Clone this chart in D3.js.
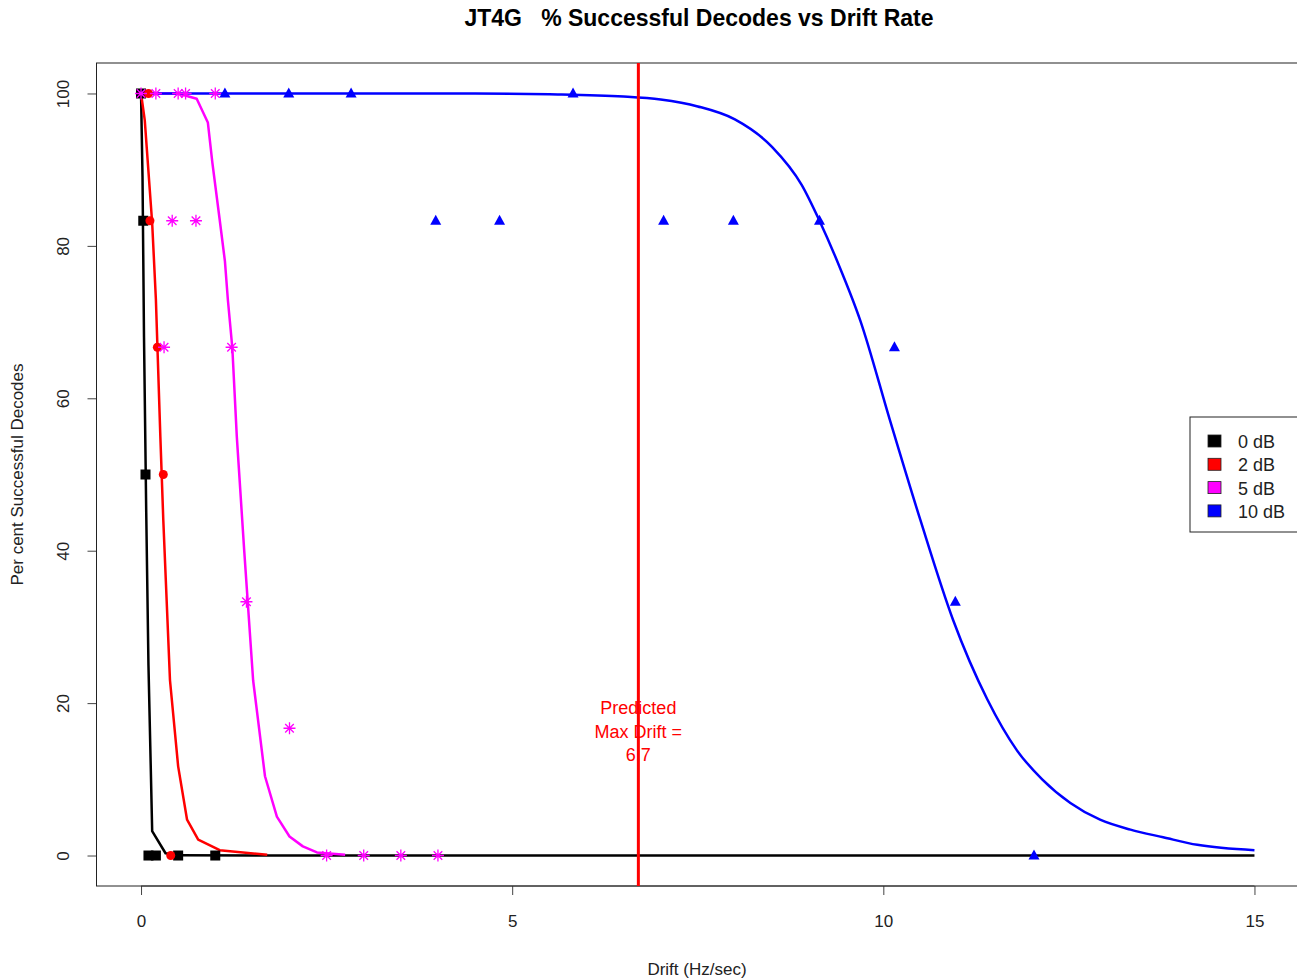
<!DOCTYPE html>
<html>
<head>
<meta charset="utf-8">
<script src="https://cdn.jsdelivr.net/npm/d3@7"></script>
<style>
  body { margin: 0; background: #fff; }
  svg { display: block; font-family: "Liberation Sans", Arial, sans-serif; }
</style>
</head>
<body>
<svg id="chart" width="1297" height="980"></svg>
<script>
// observed points (drift Hz/sec, % decodes)
const pts0 = [[0, 100], [0.03, 83.3], [0.06, 50], [0.1, 0], [0.2, 0], [0.5, 0], [1.0, 0]];
const pts2 = [[0.1, 100], [0.12, 83.3], [0.22, 66.7], [0.3, 50], [0.4, 0]];
const pts5 = [[0, 100], [0.2, 100], [0.5, 100], [0.6, 100], [1.0, 100], [0.42, 83.3], [0.74, 83.3],
  [0.31, 66.7], [1.22, 66.7], [1.42, 33.3], [2.0, 16.7], [2.5, 0], [3.0, 0], [3.5, 0], [4.0, 0]];
const pts10 = [[1.13, 100], [1.99, 100], [2.83, 100], [5.82, 100], [3.97, 83.3], [4.83, 83.3],
  [7.04, 83.3], [7.98, 83.3], [9.14, 83.3], [10.15, 66.7], [10.97, 33.3], [12.03, 0]];

// fitted curves
const fit0 = [[0, 100], [0.02, 89], [0.04, 68], [0.07, 45], [0.1, 25], [0.13, 12], [0.15, 3.2], [0.33, 0.3],
  [0.5, 0.02], [15, 0]];
const fit2 = [[0, 100], [0.05, 96.5], [0.15, 83], [0.2, 73], [0.26, 55], [0.3, 44], [0.39, 23], [0.5, 11.7],
  [0.62, 4.7], [0.77, 2.1], [1.06, 0.7], [1.7, 0.1]];
const fit5 = [[0, 100], [0.5, 100], [0.75, 99.3], [0.9, 96.2], [0.96, 91], [1.06, 83.4], [1.13, 78], [1.17, 72.9],
  [1.23, 66.6], [1.29, 55], [1.39, 40], [1.51, 23], [1.67, 10.4], [1.83, 5.1], [2.0, 2.5], [2.18, 1.2],
  [2.37, 0.4], [2.75, 0.1]];
const fit10 = [[0, 100], [3, 100], [4.5, 100], [5.5, 99.9], [6.5, 99.6], [7.0, 99.2], [7.5, 98.3], [8.0, 96.6],
  [8.5, 93], [8.9, 88], [9.14, 83.3], [9.4, 77.5], [9.69, 70.2], [10.09, 57.1], [10.5, 44], [10.94, 30.9],
  [11.4, 20.5], [11.8, 13.8], [12.14, 10], [12.52, 6.9], [12.92, 4.7], [13.33, 3.4], [13.77, 2.4],
  [14.23, 1.4], [15, 0.7]];

const legendLabels = ['0 dB', '2 dB', '5 dB', '10 dB'];
const seriesColors = ['#000000', '#ff0000', '#ff00ff', '#0000ff'];
const xTicks = [0, 5, 10, 15];
const yTicks = [0, 20, 40, 60, 80, 100];
const predictedDrift = 6.7;

const svg = d3.select('#chart');
// the right edge of the plot box falls just past the window
const plotLeft = 96.5, plotTop = 63, plotRight = 1299, plotBottom = 886;

const x = d3.scaleLinear().domain([-0.6, 15.6]).range([plotLeft, plotRight]);
const y = d3.scaleLinear().domain([-4, 104]).range([plotBottom, plotTop]);

// axes
const xAxis = svg.append('g')
  .attr('transform', `translate(0,${plotBottom})`)
  .call(d3.axisBottom(x).tickValues(xTicks).tickSize(9).tickPadding(20).tickFormat(d3.format('d')));
xAxis.select('.domain').attr('d', `M${x(0)},0H${x(15)}`).attr('stroke', '#444');
xAxis.selectAll('.tick line').attr('stroke', '#444');
xAxis.selectAll('text').attr('font-size', 17).attr('fill', '#222');

const yAxis = svg.append('g')
  .attr('transform', `translate(${plotLeft},0)`)
  .call(d3.axisLeft(y).tickValues(yTicks).tickSize(9).tickFormat(d3.format('d')));
yAxis.select('.domain').attr('d', `M0,${y(0)}V${y(100)}`).attr('stroke', '#444');
yAxis.selectAll('.tick line').attr('stroke', '#444');
yAxis.selectAll('.tick text')
  .attr('font-size', 17).attr('fill', '#222')
  .attr('x', null)
  .attr('text-anchor', 'middle')
  .attr('transform', 'translate(-33,0) rotate(-90)')
  .attr('dy', '0.35em');

// plot box
svg.append('rect')
  .attr('x', plotLeft).attr('y', plotTop)
  .attr('width', plotRight - plotLeft).attr('height', plotBottom - plotTop)
  .attr('fill', 'none').attr('stroke', '#222').attr('stroke-width', 1);

// titles
svg.append('text')
  .attr('x', 699).attr('y', 26)
  .attr('text-anchor', 'middle')
  .attr('font-size', 23).attr('font-weight', 'bold')
  .style('white-space', 'pre')
  .text('JT4G   % Successful Decodes vs Drift Rate');

svg.append('text')
  .attr('x', 697).attr('y', 975)
  .attr('text-anchor', 'middle')
  .attr('font-size', 17).attr('fill', '#222')
  .text('Drift (Hz/sec)');

svg.append('text')
  .attr('transform', `translate(23,${(plotTop + plotBottom) / 2}) rotate(-90)`)
  .attr('text-anchor', 'middle')
  .attr('font-size', 17).attr('fill', '#222')
  .text('Per cent Successful Decodes');

// fitted lines
const line = d3.line().x(d => x(d[0])).y(d => y(d[1]));
const smooth = d3.line().x(d => x(d[0])).y(d => y(d[1])).curve(d3.curveMonotoneX);
const fits = [fit0, fit2, fit5, fit10];
svg.append('g').selectAll('path')
  .data(fits)
  .join('path')
  .attr('d', (d, i) => i === 3 ? smooth(d) : line(d))
  .attr('fill', 'none')
  .attr('stroke', (d, i) => seriesColors[i])
  .attr('stroke-width', 2.5)
  .attr('stroke-linejoin', 'round');

// markers
svg.append('g').selectAll('rect')
  .data(pts0)
  .join('rect')
  .attr('x', d => x(d[0]) - 5).attr('y', d => y(d[1]) - 5)
  .attr('width', 10).attr('height', 10)
  .attr('fill', seriesColors[0]);

svg.append('g').selectAll('circle')
  .data(pts2)
  .join('circle')
  .attr('cx', d => x(d[0])).attr('cy', d => y(d[1]))
  .attr('r', 4.5)
  .attr('fill', seriesColors[1]);

const star = 'M-6,0H6M0,-6V6M-4.3,-4.3L4.3,4.3M-4.3,4.3L4.3,-4.3';
svg.append('g').selectAll('path')
  .data(pts5)
  .join('path')
  .attr('transform', d => `translate(${x(d[0])},${y(d[1])})`)
  .attr('d', star)
  .attr('stroke', seriesColors[2])
  .attr('stroke-width', 1.3)
  .attr('fill', 'none');

svg.append('g').selectAll('path')
  .data(pts10)
  .join('path')
  .attr('transform', d => `translate(${x(d[0])},${y(d[1])})`)
  .attr('d', 'M0,-6L5.5,4L-5.5,4Z')
  .attr('fill', seriesColors[3]);

// predicted max drift
svg.append('line')
  .attr('x1', x(predictedDrift)).attr('x2', x(predictedDrift))
  .attr('y1', plotTop).attr('y2', plotBottom)
  .attr('stroke', '#ff0000').attr('stroke-width', 3);

const note = svg.append('text')
  .attr('text-anchor', 'middle')
  .attr('font-size', 18).attr('fill', '#ff0000');
['Predicted', 'Max Drift =', String(predictedDrift)].forEach((t, i) => {
  note.append('tspan').attr('x', x(predictedDrift)).attr('y', 714 + i * 23.5).text(t);
});

// legend
const lg = svg.append('g').attr('transform', 'translate(1190,417)');
lg.append('rect')
  .attr('width', 109).attr('height', 115)
  .attr('fill', '#fff').attr('stroke', '#222');
const rows = lg.selectAll('g.row')
  .data(legendLabels)
  .join('g')
  .attr('class', 'row')
  .attr('transform', (d, i) => `translate(0,${24 + i * 23.3})`);
rows.append('rect')
  .attr('x', 18).attr('y', -6).attr('width', 13).attr('height', 12)
  .attr('fill', (d, i) => seriesColors[i])
  .attr('stroke', '#222').attr('stroke-width', 0.8);
rows.append('text')
  .attr('x', 48).attr('y', 7)
  .attr('font-size', 18).attr('fill', '#222')
  .text(d => d);
</script>
</body>
</html>
